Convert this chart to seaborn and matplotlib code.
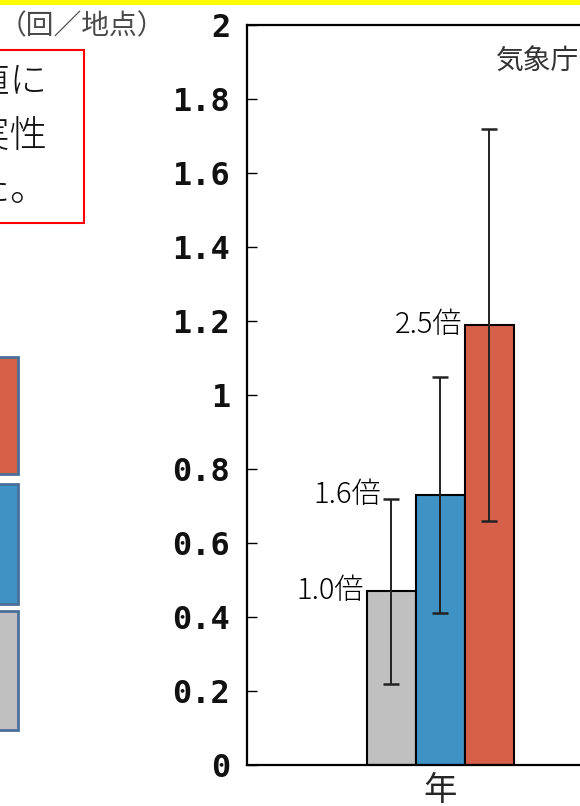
import matplotlib
matplotlib.use("Agg")
import matplotlib.pyplot as plt
from matplotlib.patches import Rectangle
import pandas as pd
import seaborn as sns

# data
group = "年"
periods = ["期間1", "期間2", "期間3"]
values = [0.47, 0.73, 1.19]
err_low = [0.22, 0.41, 0.66]
err_high = [0.72, 1.05, 1.72]
ratio_labels = ["1.0倍", "1.6倍", "2.5倍"]
yticks = [0, 0.2, 0.4, 0.6, 0.8, 1, 1.2, 1.4, 1.6, 1.8, 2]
ytick_labels = ["0", "0.2", "0.4", "0.6", "0.8", "1", "1.2", "1.4", "1.6", "1.8", "2"]
unit_label = "（回／地点）"
source_label = "気象庁"
note_lines = ["２つの期間の平均値に", "統計的に有意な確実性", "が認められた。"]

colors = ["#c0c0c0", "#3f93c4", "#d7604b"]
jp = ["Noto Sans CJK JP", "DejaVu Sans"]

sns.set_style("white")
plt.rcParams["font.family"] = jp

df = pd.DataFrame({"group": [group] * 3, "period": periods, "value": values})

W, H = 580, 806
fig = plt.figure(figsize=(W / 100, H / 100), dpi=100)
ax = fig.add_axes([247 / W, 41 / H, (640 - 247) / W, 740 / H])

sns.barplot(data=df, x="group", y="value", hue="period", palette=colors,
            saturation=1, edgecolor="black", linewidth=1.5, width=0.8,
            legend=False, ax=ax)

# asymmetric error bars at each bar centre
bars = ax.patches[:3]
for b, v, lo, hi in zip(bars, values, err_low, err_high):
    xc = b.get_x() + b.get_width() / 2
    ax.errorbar(xc, v, yerr=[[v - lo], [hi - v]], fmt="none", ecolor="#222222",
                elinewidth=1.4, capsize=6, capthick=1.8, zorder=5)

# ratio labels left of the bar tops
offsets = [-3, -34, -2]
for b, v, lab, off in zip(bars, values, ratio_labels, offsets):
    ax.annotate(lab, (b.get_x(), v), xytext=(off * 0.72, 0), textcoords="offset points",
                ha="right", va="center", fontsize=21, fontweight="light",
                color="black", family=jp)

px = 0.8 / 147
ax.set_xlim(-(440 - 247) * px, (640 - 440) * px)
ax.set_ylim(0, 2)
ax.set_yticks(yticks)
ax.set_yticklabels(ytick_labels, family="DejaVu Sans Mono", fontsize=23, fontweight="bold")
ax.tick_params(axis="y", direction="in", length=7, width=1, pad=12, left=True, colors="black")
ax.tick_params(axis="x", length=0, pad=6, labelsize=24)
for t in ax.get_yticklabels():
    t.set_color("#111111")
ax.set_xlabel("")
ax.set_ylabel("")
for s in ["left", "top", "bottom"]:
    ax.spines[s].set_color("black")
    ax.spines[s].set_linewidth(1.6)
ax.spines["right"].set_visible(False)

# texts around the axes
fig.text(165 / W, 1 - 26 / H, unit_label, ha="right", va="center", fontsize=20,
         color="#4a4a4a", family=jp)
fig.text(579 / W, 1 - 62 / H, source_label, ha="right", va="center", fontsize=20,
         color="#333333", family=jp)

# red note box (cut by the left edge)
fig.patches.append(Rectangle((-0.2, 1 - 223 / H), 0.2 + 84 / W, 173 / H,
                             transform=fig.transFigure, facecolor="white",
                             edgecolor="#ff0000", linewidth=1.5))
for i, line in enumerate(note_lines):
    fig.text(48 / W, 1 - (82 + 54 * i) / H, line, ha="right", va="center",
             fontsize=27, fontweight="light", color="#111111", family=jp)

# legend swatches cut by the left edge
for c, (y0, y1) in zip(colors[::-1], [(357, 474), (484, 604), (611, 730)]):
    fig.patches.append(Rectangle((-0.1, 1 - y1 / H), 0.1 + 18 / W, (y1 - y0) / H,
                                 transform=fig.transFigure, facecolor=c,
                                 edgecolor="#4a6f9a", linewidth=2))

# yellow strip at the top
fig.patches.append(Rectangle((0, 1 - 5 / H), 1, 5 / H, transform=fig.transFigure,
                             facecolor="#ffff00", edgecolor="none"))

fig.savefig("out.png", dpi=100)
